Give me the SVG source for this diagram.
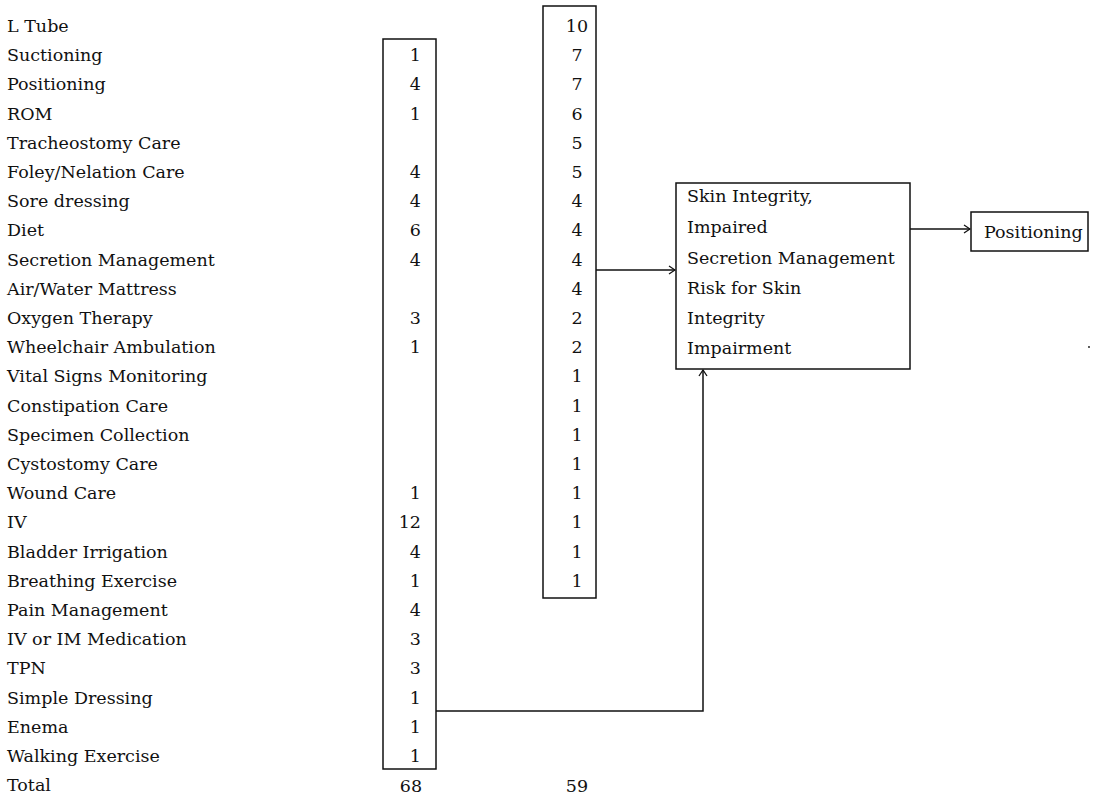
<svg xmlns="http://www.w3.org/2000/svg" width="1098" height="796" viewBox="0 0 1098 796">
<style>
text{font-family:"DejaVu Serif","Liberation Serif",serif;font-size:17.5px;fill:#111}
.box{fill:none;stroke:#111;stroke-width:1.5}
.ln{fill:none;stroke:#111;stroke-width:1.5}
.r{text-anchor:end}
.c{text-anchor:middle}
</style>
<defs>
<marker id="ah" markerWidth="10" markerHeight="10" refX="9" refY="5" orient="auto" markerUnits="userSpaceOnUse">
<path d="M3,1 L9,5 L3,9" fill="none" stroke="#111" stroke-width="1.3"/>
</marker>
</defs>
<rect width="1098" height="796" fill="#fff"/>
<g id="labels">
<text x="7" y="32">L Tube</text>
<text x="7" y="61.2">Suctioning</text>
<text x="7" y="90.4">Positioning</text>
<text x="7" y="119.6">ROM</text>
<text x="7" y="148.8">Tracheostomy Care</text>
<text x="7" y="178">Foley/Nelation Care</text>
<text x="7" y="207.2">Sore dressing</text>
<text x="7" y="236.4">Diet</text>
<text x="7" y="265.6">Secretion Management</text>
<text x="7" y="294.8">Air/Water Mattress</text>
<text x="7" y="324">Oxygen Therapy</text>
<text x="7" y="353.2">Wheelchair Ambulation</text>
<text x="7" y="382.4">Vital Signs Monitoring</text>
<text x="7" y="411.6">Constipation Care</text>
<text x="7" y="440.8">Specimen Collection</text>
<text x="7" y="470">Cystostomy Care</text>
<text x="7" y="499.2">Wound Care</text>
<text x="7" y="528.4">IV</text>
<text x="7" y="557.6">Bladder Irrigation</text>
<text x="7" y="586.8">Breathing Exercise</text>
<text x="7" y="616">Pain Management</text>
<text x="7" y="645.2">IV or IM Medication</text>
<text x="7" y="674.4">TPN</text>
<text x="7" y="703.6">Simple Dressing</text>
<text x="7" y="732.8">Enema</text>
<text x="7" y="762">Walking Exercise</text>
<text x="7" y="791.2">Total</text>
</g>
<g id="column1">
<rect class="box" x="383" y="39" width="53" height="730"/>
<text class="r" x="421" y="61.2">1</text>
<text class="r" x="421" y="90.4">4</text>
<text class="r" x="421" y="119.6">1</text>
<text class="r" x="421" y="178">4</text>
<text class="r" x="421" y="207.2">4</text>
<text class="r" x="421" y="236.4">6</text>
<text class="r" x="421" y="265.6">4</text>
<text class="r" x="421" y="324">3</text>
<text class="r" x="421" y="353.2">1</text>
<text class="r" x="421" y="499.2">1</text>
<text class="r" x="421" y="528.4">12</text>
<text class="r" x="421" y="557.6">4</text>
<text class="r" x="421" y="586.8">1</text>
<text class="r" x="421" y="616">4</text>
<text class="r" x="421" y="645.2">3</text>
<text class="r" x="421" y="674.4">3</text>
<text class="r" x="421" y="703.6">1</text>
<text class="r" x="421" y="732.8">1</text>
<text class="r" x="421" y="762">1</text>
<text class="c" x="411" y="792">68</text>
</g>
<g id="column2">
<rect class="box" x="543" y="6" width="53" height="592"/>
<text class="c" x="577" y="32">10</text>
<text class="c" x="577" y="61.2">7</text>
<text class="c" x="577" y="90.4">7</text>
<text class="c" x="577" y="119.6">6</text>
<text class="c" x="577" y="148.8">5</text>
<text class="c" x="577" y="178">5</text>
<text class="c" x="577" y="207.2">4</text>
<text class="c" x="577" y="236.4">4</text>
<text class="c" x="577" y="265.6">4</text>
<text class="c" x="577" y="294.8">4</text>
<text class="c" x="577" y="324">2</text>
<text class="c" x="577" y="353.2">2</text>
<text class="c" x="577" y="382.4">1</text>
<text class="c" x="577" y="411.6">1</text>
<text class="c" x="577" y="440.8">1</text>
<text class="c" x="577" y="470">1</text>
<text class="c" x="577" y="499.2">1</text>
<text class="c" x="577" y="528.4">1</text>
<text class="c" x="577" y="557.6">1</text>
<text class="c" x="577" y="586.8">1</text>
<text class="c" x="577" y="792">59</text>
</g>
<g id="diagnosis">
<rect class="box" x="676" y="183" width="234" height="186"/>
<text x="687" y="202">Skin Integrity,</text>
<text x="687" y="233">Impaired</text>
<text x="687" y="264">Secretion Management</text>
<text x="687" y="294">Risk for Skin</text>
<text x="687" y="324">Integrity</text>
<text x="687" y="354">Impairment</text>
</g>
<g id="positioning">
<rect class="box" x="971" y="212" width="117" height="39"/>
<text x="984" y="238">Positioning</text>
</g>
<g id="connectors">
<line class="ln" x1="596" y1="270" x2="675" y2="270" marker-end="url(#ah)"/>
<path class="ln" d="M436,711 H703 V370" marker-end="url(#ah)"/>
<line class="ln" x1="910" y1="229" x2="970" y2="229" marker-end="url(#ah)"/>
</g>
<circle cx="1089" cy="347" r="0.9" fill="#111"/>
</svg>
